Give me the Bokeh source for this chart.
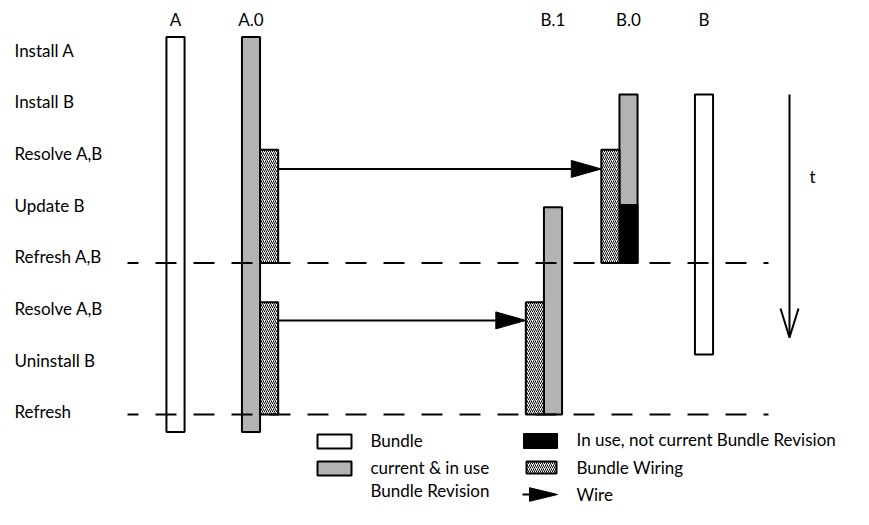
from bokeh.plotting import figure
from bokeh.models import Range1d
from bokeh.core.properties import value
from bokeh.embed import file_html
from bokeh.resources import INLINE

# ---------------- data (time measured in step units) ----------------
steps = ["Install A", "Install B", "Resolve A,B", "Update B",
         "Refresh A,B", "Resolve A,B", "Uninstall B", "Refresh"]
step_index = list(range(len(steps)))

columns = ["A", "A.0", "B.1", "B.0", "B"]
column_slot = [0, 1, 5, 6, 7]

# bundles (white lifelines)
bundle_col = ["A", "B"]
bundle_start = [-0.25, 0.86]
bundle_end = [7.39, 5.89]

# current & in use bundle revisions (grey)
rev_col = ["A.0", "B.0", "B.1"]
rev_start = [-0.25, 0.86, 3.04]
rev_end = [7.39, 4.12, 7.05]

# in use, not current bundle revision (black)
stale_col = ["B.0"]
stale_start = [3.0]
stale_end = [4.12]

# bundle wiring (hatched); side +1 = right of revision, -1 = left
wiring_col = ["A.0", "B.0", "A.0", "B.1"]
wiring_side = [1, -1, 1, -1]
wiring_start = [1.93, 1.93, 4.88, 4.88]
wiring_end = [4.12, 4.12, 7.05, 7.05]

# wires
wire_from = ["A.0", "A.0"]
wire_to = ["B.0", "B.1"]
wire_time = [2.3, 5.23]

# refresh barriers
refresh_time = [4.12, 7.05]

# time arrow
time_start = 0.86
time_end = 5.56

legend_labels = ["Bundle", "current & in use\nBundle Revision",
                 "In use, not current Bundle Revision", "Bundle Wiring", "Wire"]

# ---------------- layout / style ----------------
W, H = 869, 525
X0, PXC = 175.0, 75.5      # pixel of slot 0, pixels per slot
Y0, PXS = 49.5, 51.7       # pixel of step 0, pixels per step
HALF = 0.12                # half bar width (slot units)
FONT = value("Lato")
FSIZE = value("17px")
GREY = "#b3b3b3"


def cx(px):
    return (px - X0) / PXC


def sy(px):
    return (px - Y0) / PXS


HEAD_LEN = 30 / PXC
HEAD_HALF = 8.5 / PXS

slot = dict(zip(columns, column_slot))

p = figure(width=W, height=H,
           x_range=Range1d(cx(0), cx(W)), y_range=Range1d(sy(H), sy(0)),
           output_backend="svg", toolbar_location=None, min_border=0,
           x_axis_type=None, y_axis_type=None)
p.grid.visible = False
p.outline_line_color = None
p.background_fill_color = "white"
p.border_fill_color = "white"

HATCH = dict(fill_color="white", hatch_pattern="/", hatch_color="black",
             hatch_scale=4, hatch_weight=1)

# white bundles
bx = [slot[c] for c in bundle_col]
p.quad(left=[x - HALF for x in bx], right=[x + HALF for x in bx],
       top=bundle_start, bottom=bundle_end,
       fill_color="white", line_color="black", line_width=2)

# grey revisions
rx = [slot[c] for c in rev_col]
p.quad(left=[x - HALF for x in rx], right=[x + HALF for x in rx],
       top=rev_start, bottom=rev_end,
       fill_color=GREY, line_color="black", line_width=2)

# black (not current)
sx = [slot[c] for c in stale_col]
p.quad(left=[x - HALF for x in sx], right=[x + HALF for x in sx],
       top=stale_start, bottom=stale_end,
       fill_color="black", line_color="black", line_width=2)

# hatched wiring
wx = [slot[c] + s * 2 * HALF for c, s in zip(wiring_col, wiring_side)]
p.quad(left=[x - HALF for x in wx], right=[x + HALF for x in wx],
       top=wiring_start, bottom=wiring_end,
       line_color="black", line_width=2, **HATCH)

# wires
xs0 = [slot[c] + 3 * HALF for c in wire_from]
xs1 = [slot[c] - 3 * HALF for c in wire_to]
p.segment(x0=xs0, y0=wire_time, x1=[x - HEAD_LEN for x in xs1], y1=wire_time,
          line_color="black", line_width=2)
p.patches(xs=[[x - HEAD_LEN, x, x - HEAD_LEN] for x in xs1],
          ys=[[t - HEAD_HALF, t, t + HEAD_HALF] for t in wire_time],
          fill_color="black", line_color="black", line_width=1)

# refresh dashed lines
p.multi_line(xs=[[cx(127), cx(768)] for _ in refresh_time],
             ys=[[t, t] for t in refresh_time],
             line_color="black", line_width=2, line_dash="21 17",
             line_dash_offset=10)

# time arrow
tx = cx(789)
p.segment(x0=[tx], y0=[time_start], x1=[tx], y1=[time_end],
          line_color="black", line_width=2)
AW = 9 / PXC
AL = 29 / PXS
p.multi_line(xs=[[tx - AW, tx, tx + AW]], ys=[[time_end - AL, time_end, time_end - AL]],
             line_color="black", line_width=2)
p.text(x=[cx(812)], y=[sy(176)], text=["t"], text_font=FONT, text_font_size=FSIZE,
       text_align="center", text_baseline="middle", text_color="black")

# step labels
p.text(x=[cx(14)] * len(steps), y=step_index, text=steps, text_font=FONT,
       text_font_size=FSIZE, text_align="left", text_baseline="middle",
       text_color="black")

# column labels
p.text(x=column_slot, y=[sy(19)] * len(columns), text=columns, text_font=FONT,
       text_font_size=FSIZE, text_align="center", text_baseline="middle",
       text_color="black")

# ---------------- legend ----------------
p.quad(left=[cx(317)], right=[cx(351)], top=[sy(434)], bottom=[sy(448)],
       fill_color="white", line_color="black", line_width=2)
p.quad(left=[cx(317)], right=[cx(351)], top=[sy(461)], bottom=[sy(475)],
       fill_color=GREY, line_color="black", line_width=2)
p.quad(left=[cx(523)], right=[cx(557)], top=[sy(433)], bottom=[sy(448)],
       fill_color="black", line_color="black", line_width=1)
p.quad(left=[cx(526)], right=[cx(556)], top=[sy(461)], bottom=[sy(473)],
       line_color="black", line_width=2, **HATCH)
p.segment(x0=[cx(522)], y0=[sy(494)], x1=[cx(530)], y1=[sy(494)],
          line_color="black", line_width=2)
p.patches(xs=[[cx(529), cx(557), cx(529)]],
          ys=[[sy(494) - HEAD_HALF * 0.8, sy(494), sy(494) + HEAD_HALF * 0.8]],
          fill_color="black", line_color="black", line_width=1)

p.text(x=[cx(370), cx(370), cx(370)], y=[sy(440), sy(467), sy(490)],
       text=[legend_labels[0]] + legend_labels[1].split("\n"),
       text_font=FONT, text_font_size=FSIZE, text_align="left",
       text_baseline="middle", text_color="black")
p.text(x=[cx(576), cx(576), cx(576)], y=[sy(439), sy(467), sy(494)],
       text=legend_labels[2:], text_font=FONT, text_font_size=FSIZE,
       text_align="left", text_baseline="middle", text_color="black")

open("out.html", "w").write(file_html(p, INLINE))
